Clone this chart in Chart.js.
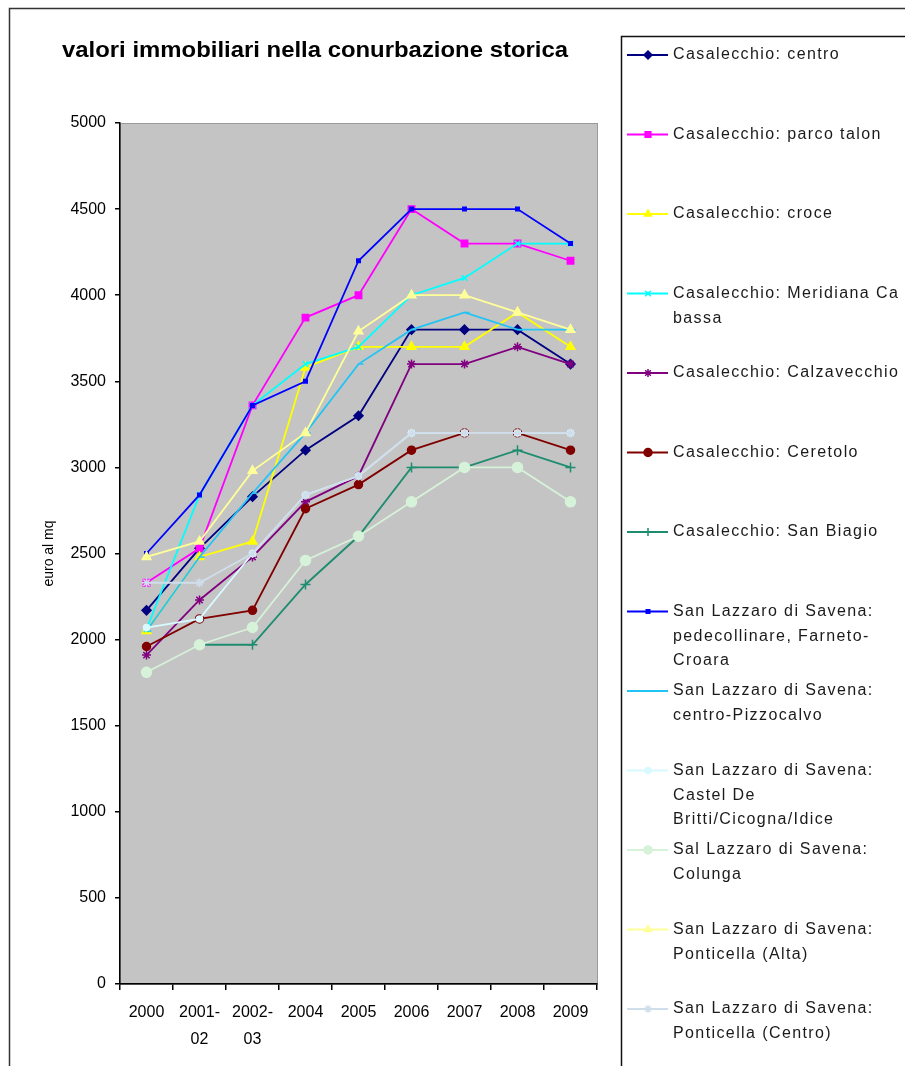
<!DOCTYPE html>
<html>
<head>
<meta charset="utf-8">
<script src="https://cdn.jsdelivr.net/npm/chart.js@4.4.1/dist/chart.umd.min.js"></script>
<style>
  html, body { margin: 0; padding: 0; background: #fff; }
  #wrap { position: relative; width: 905px; height: 1066px; }
</style>
</head>
<body>
<div id="wrap"><canvas id="c" width="905" height="1066"></canvas></div>
<script>
// Years on the x axis (multi-line labels for the two-year periods)
const categories = [['2000'], ['2001-', '02'], ['2002-', '03'], ['2004'], ['2005'], ['2006'], ['2007'], ['2008'], ['2009']];

// Zone names, shown in the legend (\n marks the line breaks)
const seriesNames = [
  'Casalecchio: centro',
  'Casalecchio: parco talon',
  'Casalecchio: croce',
  'Casalecchio: Meridiana Ca\nbassa',
  'Casalecchio: Calzavecchio',
  'Casalecchio: Ceretolo',
  'Casalecchio: San Biagio',
  'San Lazzaro di Savena:\npedecollinare, Farneto-\nCroara',
  'San Lazzaro di Savena:\ncentro-Pizzocalvo',
  'San Lazzaro di Savena:\nCastel De\nBritti/Cicogna/Idice',
  'Sal Lazzaro di Savena:\nColunga',
  'San Lazzaro di Savena:\nPonticella (Alta)',
  'San Lazzaro di Savena:\nPonticella (Centro)'
];

// Values in euro per square metre
const casalecchioCentro     = [2170, 2530, 2830, 3100, 3300, 3800, 3800, 3800, 3600];
const casalecchioParcoTalon = [2330, 2530, 3360, 3870, 4000, 4500, 4300, 4300, 4200];
const casalecchioCroce      = [2050, 2480, 2570, 3580, 3700, 3700, 3700, 3900, 3700];
const casalecchioMeridiana  = [2060, 2840, 3360, 3600, 3700, 4000, 4100, 4300, 4300];
const casalecchioCalzavecchio = [1910, 2230, 2480, 2800, 2950, 3600, 3600, 3700, 3600];
const casalecchioCeretolo   = [1960, 2120, 2170, 2760, 2900, 3100, 3200, 3200, 3100];
const casalecchioSanBiagio  = [null, 1970, 1970, 2320, 2600, 3000, 3000, 3100, 3000];
const sanLazzaroPedecollinare = [2500, 2840, 3360, 3500, 4200, 4500, 4500, 4500, 4300];
const sanLazzaroPizzocalvo  = [2050, 2480, 2850, 3200, 3600, 3800, 3900, 3800, 3800];
const sanLazzaroCastelDeBritti = [2070, 2120, 2500, 2840, 2950, 3200, 3200, 3200, 3200];
const sanLazzaroColunga     = [1810, 1970, 2070, 2460, 2600, 2800, 3000, 3000, 2800];
const sanLazzaroPonticellaAlta = [2480, 2570, 2980, 3200, 3790, 4000, 4000, 3900, 3800];
const sanLazzaroPonticellaCentro = [2330, 2330, 2500, 2840, 2950, 3200, 3200, 3200, 3200];

// Y axis range and step
const yMin = 0, yMax = 5000, yStep = 500;

const seriesValues = [
  casalecchioCentro, casalecchioParcoTalon, casalecchioCroce, casalecchioMeridiana,
  casalecchioCalzavecchio, casalecchioCeretolo, casalecchioSanBiagio,
  sanLazzaroPedecollinare, sanLazzaroPizzocalvo, sanLazzaroCastelDeBritti,
  sanLazzaroColunga, sanLazzaroPonticellaAlta, sanLazzaroPonticellaCentro
];

const styles = [
  { color: '#000080', point: 'rectRot', r: 4.5 },
  { color: '#FF00FF', point: 'rect', r: 4.5 },
  { color: '#FFFF00', point: 'triangle', r: 5 },
  { color: '#00FFFF', point: 'crossRot', r: 4 },
  { color: '#800080', point: 'star', r: 4.5 },
  { color: '#800000', point: 'circle', r: 4 },
  { color: '#1E8C6E', point: 'cross', r: 5 },
  { color: '#0000FF', point: 'rect', r: 2.5 },
  { color: '#22C4F4', point: 'dash', r: 5 },
  { color: '#D8FAFF', point: 'circle', r: 3 },
  { color: '#D6F2D8', point: 'circle', r: 5 },
  { color: '#FFFF99', point: 'triangle', r: 5 },
  { color: '#D0DEEC', point: 'star', r: 4.5 }
];

const FONT = '"Liberation Sans", Arial, sans-serif';

const datasets = seriesValues.map((vals, i) => ({
  label: seriesNames[i].replace(/\n/g, ' '),
  data: vals,
  borderColor: styles[i].color,
  backgroundColor: styles[i].color,
  pointBorderColor: styles[i].color,
  pointBackgroundColor: styles[i].color,
  pointStyle: styles[i].point,
  pointRadius: styles[i].r,
  pointBorderWidth: 1.5,
  borderWidth: 1.8,
  tension: 0,
  spanGaps: false,
  order: seriesValues.length - i
}));

// Grey plot background and the outer chart border
const backdrop = {
  id: 'backdrop',
  beforeDraw(chart) {
    const { ctx, chartArea: a } = chart;
    ctx.save();
    ctx.fillStyle = '#C4C4C4';
    ctx.fillRect(a.left, a.top, a.right - a.left, a.bottom - a.top);
    ctx.strokeStyle = '#9a9a9a';
    ctx.lineWidth = 1;
    ctx.strokeRect(a.left + 0.5, a.top + 0.5, a.right - a.left, a.bottom - a.top);
    ctx.strokeStyle = '#333';
    ctx.lineWidth = 1.5;
    ctx.strokeRect(9.5, 8.5, 1000, 1100);
    ctx.restore();
  }
};

// Chart title and the legend box on the right
const sideLegend = {
  id: 'sideLegend',
  afterDraw(chart) {
    const { ctx } = chart;
    ctx.save();
    ctx.fillStyle = '#000';
    ctx.font = 'bold 22px ' + FONT;
    ctx.textBaseline = 'middle';
    ctx.textAlign = 'left';
    const title = 'valori immobiliari nella conurbazione storica';
    const tw = ctx.measureText(title).width;
    ctx.save();
    ctx.translate(62, 51);
    ctx.scale(506 / tw, 1);
    ctx.fillText(title, 0, 0);
    ctx.restore();

    ctx.fillStyle = '#fff';
    ctx.fillRect(621, 36, 400, 1100);
    ctx.strokeStyle = '#111';
    ctx.lineWidth = 1.5;
    ctx.strokeRect(621.5, 36.5, 400, 1100);

    ctx.font = '16px ' + FONT;
    ctx.letterSpacing = '1.4px';
    chart.data.datasets.forEach((ds, i) => {
      const y0 = 55 + i * 79.5;
      ctx.strokeStyle = ds.borderColor;
      ctx.lineWidth = 1.8;
      ctx.beginPath();
      ctx.moveTo(627, y0);
      ctx.lineTo(668, y0);
      ctx.stroke();
      ctx.fillStyle = ds.pointBackgroundColor;
      ctx.strokeStyle = ds.pointBorderColor;
      ctx.lineWidth = 1.5;
      Chart.helpers.drawPoint(ctx, { pointStyle: ds.pointStyle, radius: Math.min(ds.pointRadius, 4), rotation: 0, borderWidth: 1.5 }, 648, y0);
      ctx.fillStyle = '#1a1a1a';
      seriesNames[i].split('\n').forEach((line, k) => {
        ctx.fillText(line, 673, y0 + k * 24.7);
      });
    });
    ctx.restore();
  }
};

new Chart(document.getElementById('c'), {
  type: 'line',
  data: { labels: categories, datasets },
  options: {
    responsive: false,
    animation: false,
    layout: { padding: { left: 20, right: 308, top: 123, bottom: 0 } },
    plugins: { legend: { display: false }, tooltip: { enabled: false }, title: { display: false } },
    scales: {
      x: {
        offset: true,
        grid: { drawOnChartArea: false, drawTicks: true, tickLength: 6, color: '#000', offset: true, lineWidth: 1.5 },
        border: { display: true, color: '#000', width: 1.5 },
        ticks: { color: '#000', padding: 9, maxRotation: 0, autoSkip: false,
                 font: { family: FONT, size: 16, lineHeight: 1.7 } },
        afterFit(scale) { scale.height = 82; }
      },
      y: {
        min: yMin, max: yMax,
        grid: { drawOnChartArea: false, drawTicks: true, tickLength: 5, color: '#000', lineWidth: 1.5 },
        border: { display: true, color: '#000', width: 1.5 },
        ticks: { stepSize: yStep, color: '#000', padding: 9,
                 callback: (v) => String(v),
                 font: { family: FONT, size: 16 } },
        title: { display: true, text: 'euro al mq', color: '#000', padding: { top: 21, bottom: 0 },
                 font: { family: FONT, size: 14 } },
        afterFit(scale) { scale.width = 100; }
      }
    }
  },
  plugins: [backdrop, sideLegend]
});
</script>
</body>
</html>
